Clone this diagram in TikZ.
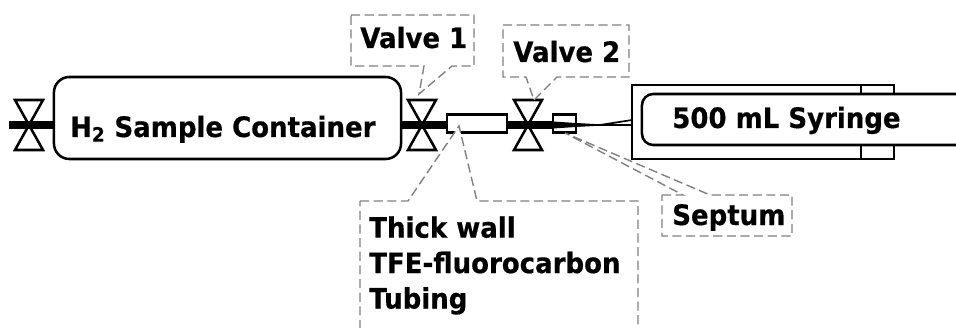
\documentclass[tikz,border=0pt]{standalone}
\usepackage{fontspec}
\setmainfont[FakeStretch=0.925,BoldFeatures={FakeBold=0.5}]{DejaVu Sans}
\tikzset{
	wall/.style={line width=1.8pt},
	part/.style={draw, wall, fill=white, inner sep=0pt, outer sep=0pt},
	pipe/.style={line width=5.4pt},
	callout/.style={draw=gray, fill=white, line width=1pt, dash pattern=on 6.5pt off 3.2pt},
	lbl/.style={anchor=base west, inner sep=0pt, font=\bfseries\fontsize{20}{25.2}\selectfont}
}

\begin{document}
\begin{tikzpicture}[x=0.025cm,y=-0.025cm]
	\useasboundingbox (0,0) rectangle (956,328);
	\clip (0,0) rectangle (956,328);
	\coordinate (pipestart) at (9,125);
	\coordinate (valveleft) at (29,125);
	\coordinate (valveone) at (422,125);
	\coordinate (valvetwo) at (528,125);
	\coordinate (collarleft) at (861,125);
	\coordinate (collarright) at (894,125);
	\node [part, rounded corners=11pt, minimum width=8.675cm, minimum height=2.05cm] (container) at (227.5,118) {};
	\node [part, minimum width=1.5cm, minimum height=0.45cm] (tube) at (477,123.5) {};
	\node [part, minimum width=0.575cm, minimum height=0.45cm] (septum) at (564.5,123.5) {};
	\node [part, minimum width=6.55cm, minimum height=1.85cm] (barrel) at (763,122) {};
	\draw [wall] (collarleft |- barrel.north) -- (collarleft |- barrel.south);
	\node [part, rounded corners=8pt, minimum width=8.2cm, minimum height=1.275cm] (plunger) at (806,119.5) {};
	\draw [pipe] (pipestart) -- (container.west |- valveleft);
	\draw [pipe] (container.east |- valveone) -- (tube.west |- valveone);
	\draw [pipe] (tube.east |- valveone) -- (septum.west |- valveone);
	\fill (septum.west |- 0,121.5) -- (576,123) -- (612,125) -- (576,127) -- (septum.west |- 0,128.5) -- cycle;
	\draw [line width=1.2pt] (septum.center |- valveone) -- (barrel.west |- valveone);
	\draw [line width=1.2pt] (600,125) -- (barrel.west |- 0,120);
	\draw [wall] (septum.south west) rectangle (septum.north east);
	\foreach \v in {valveleft,valveone,valvetwo}
		\draw [wall] ([shift={(-14,-25)}]\v) -- ([shift={(14,-25)}]\v) -- ([shift={(-14,25)}]\v) -- ([shift={(14,25)}]\v) -- cycle;
	\draw [callout] (351,15) -- (474,15) -- (474,66) -- (452,66) -- (419,94) -- (424,66) -- (351,66) -- cycle;
	\draw [callout] (503,25) -- (629,25) -- (629,77) -- (557,77) -- (534,100) -- (526,77) -- (503,77) -- cycle;
	\draw [callout] (360,201) -- (408,201) -- (459,126) -- (477,201) -- (638,201) -- (638,340) -- (360,340) -- cycle;
	\draw [callout] (662,195) -- (683,195) -- (565,133) -- (710,195) -- (792,195) -- (792,236) -- (662,236) -- cycle;
	\node [lbl] (containerlbl) at (70,137) {H\textsubscript{2} Sample Container};
	\node [lbl] (valveonelbl) at (360,48) {Valve 1};
	\node [lbl] (valvetwolbl) at (513,62) {Valve 2};
	\node [lbl] (syringelbl) at (672,128) {500 mL Syringe};
	\node [lbl] (septumlbl) at (672,225) {Septum};
	\node [lbl, align=left, anchor=north west] (tubelbl) at (369,216) {Thick wall\\TFE-fluorocarbon\\Tubing};
\end{tikzpicture}
\end{document}
